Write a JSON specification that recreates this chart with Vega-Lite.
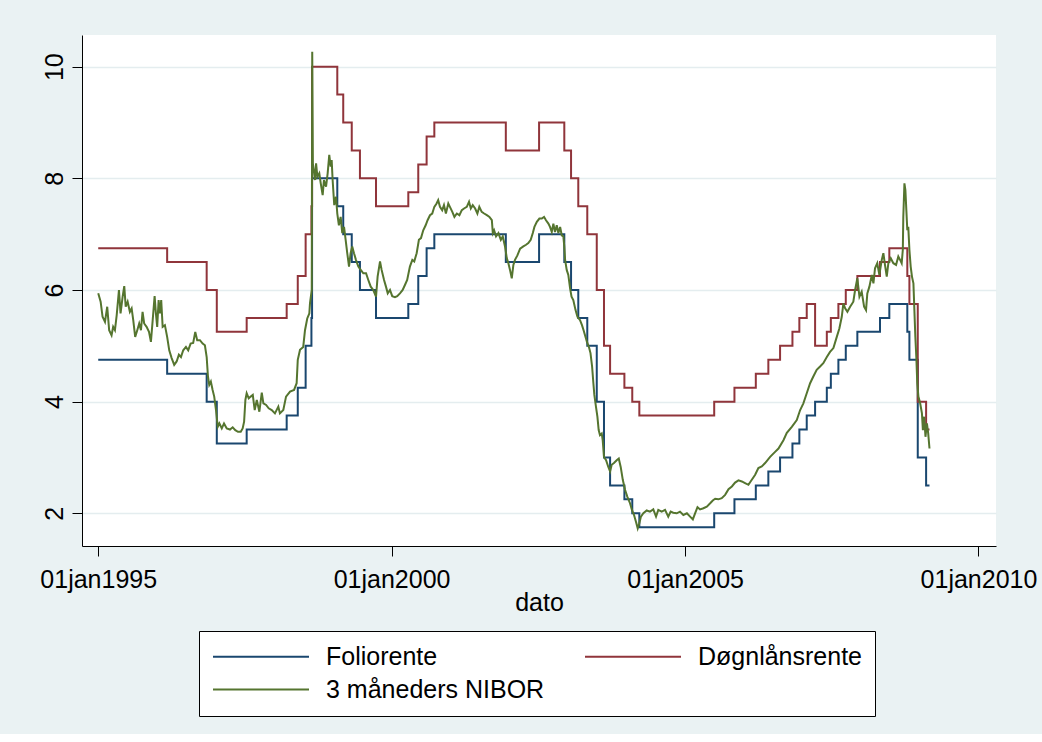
{
  "$schema": "https://vega.github.io/schema/vega-lite/v6.json",
  "width": 914,
  "height": 511,
  "autosize": {"type": "none"},
  "padding": {"left": 82, "top": 35, "right": 46, "bottom": 188},
  "background": "#EAF2F3",
  "config": {
    "font": "Liberation Sans",
    "view": {"fill": "#FFFFFF", "stroke": null},
    "axis": {"domainColor": "#000000", "tickColor": "#000000", "labelColor": "#000000", "titleColor": "#000000", "labelFont": "Liberation Sans", "titleFont": "Liberation Sans", "domainWidth": 1, "tickWidth": 1}
  },
  "encoding": {
    "x": {
      "field": "dato", "type": "temporal", "title": "dato",
      "scale": {"domain": [{"year": 1994, "month": 9, "date": 22}, {"year": 2010, "month": 4, "date": 20}]},
      "axis": {
        "values": [{"year": 1995, "month": 1, "date": 1}, {"year": 2000, "month": 1, "date": 1}, {"year": 2005, "month": 1, "date": 1}, {"year": 2010, "month": 1, "date": 1}],
        "format": "%d%b%Y", "labelExpr": "lower(datum.label)",
        "labelFontSize": 25, "labelPadding": 11, "tickSize": 10,
        "labelFlush": false, "labelOverlap": false, "labelBound": false,
        "labelAlign": "center", "labelBaseline": "top",
        "grid": false,
        "titleFontSize": 25, "titleFontWeight": "normal", "titleY": 64, "titleBaseline": "alphabetic"
      }
    },
    "y": {
      "field": "rente", "type": "quantitative", "title": null,
      "scale": {"domain": [1.414, 10.568], "nice": false, "zero": false},
      "axis": {
        "values": [2, 4, 6, 8, 10],
        "labelAngle": -90, "labelAlign": "center", "labelBaseline": "alphabetic",
        "labelPadding": 10, "tickSize": 10, "labelFontSize": 25,
        "labelFlush": false, "labelOverlap": false,
        "grid": true, "gridColor": "#E4EDEF", "gridWidth": 1.5
      }
    }
  },
  "layer": [
    {
      "data": {
        "format": {"parse": {"dato": "date:'%Y-%j'"}},
        "values": [
          {"dato": "1995-001", "rente": 4.75}, {"dato": "1996-065", "rente": 4.5}, {"dato": "1996-311", "rente": 4.0}, {"dato": "1997-008", "rente": 3.25},
          {"dato": "1997-194", "rente": 3.5}, {"dato": "1998-078", "rente": 3.75}, {"dato": "1998-147", "rente": 4.25}, {"dato": "1998-196", "rente": 5.0},
          {"dato": "1998-232", "rente": 5.5}, {"dato": "1998-236", "rente": 8.0}, {"dato": "1999-028", "rente": 7.5}, {"dato": "1999-065", "rente": 7.0},
          {"dato": "1999-118", "rente": 6.5}, {"dato": "1999-169", "rente": 6.0}, {"dato": "1999-269", "rente": 5.5}, {"dato": "2000-105", "rente": 5.75},
          {"dato": "2000-167", "rente": 6.25}, {"dato": "2000-219", "rente": 6.75}, {"dato": "2000-267", "rente": 7.0}, {"dato": "2001-346", "rente": 6.5},
          {"dato": "2002-188", "rente": 7.0}, {"dato": "2002-345", "rente": 6.5}, {"dato": "2003-022", "rente": 6.0}, {"dato": "2003-067", "rente": 5.5},
          {"dato": "2003-123", "rente": 5.0}, {"dato": "2003-182", "rente": 4.0}, {"dato": "2003-227", "rente": 3.0}, {"dato": "2003-265", "rente": 2.5},
          {"dato": "2003-354", "rente": 2.25}, {"dato": "2004-038", "rente": 2.0}, {"dato": "2004-082", "rente": 1.75}, {"dato": "2005-182", "rente": 2.0},
          {"dato": "2005-308", "rente": 2.25}, {"dato": "2006-076", "rente": 2.5}, {"dato": "2006-154", "rente": 2.75}, {"dato": "2006-227", "rente": 3.0},
          {"dato": "2006-304", "rente": 3.25}, {"dato": "2006-347", "rente": 3.5}, {"dato": "2007-028", "rente": 3.75}, {"dato": "2007-080", "rente": 4.0},
          {"dato": "2007-153", "rente": 4.25}, {"dato": "2007-178", "rente": 4.5}, {"dato": "2007-225", "rente": 4.75}, {"dato": "2007-271", "rente": 5.0},
          {"dato": "2007-343", "rente": 5.25}, {"dato": "2008-119", "rente": 5.5}, {"dato": "2008-177", "rente": 5.75}, {"dato": "2008-289", "rente": 5.25},
          {"dato": "2008-302", "rente": 4.75}, {"dato": "2008-354", "rente": 3.0}, {"dato": "2009-040", "rente": 2.5}, {"dato": "2009-061", "rente": 2.5}
        ]
      },
      "mark": {"type": "line", "interpolate": "step-after", "strokeWidth": 2},
      "encoding": {
        "color": {
          "datum": "Foliorente", "type": "nominal",
          "scale": {"domain": ["Foliorente", "Døgnlånsrente", "3 måneders NIBOR"], "range": ["#1A476F", "#90353B", "#55752F"]},
          "legend": {
            "orient": "none", "legendX": 117, "legendY": 596, "title": null,
            "columns": 2, "direction": "horizontal",
            "symbolType": "stroke", "symbolSize": 9216, "symbolStrokeWidth": 2, "clipHeight": 25,
            "labelFontSize": 25, "labelOffset": 16, "labelLimit": 0, "labelColor": "#000000", "labelFont": "Liberation Sans",
            "padding": 13, "rowPadding": 7, "columnPadding": 39,
            "strokeColor": "#000000", "fillColor": "#FFFFFF"
          }
        }
      }
    },
    {
      "data": {
        "format": {"parse": {"dato": "date:'%Y-%j'"}},
        "values": [
          {"dato": "1995-001", "rente": 6.75}, {"dato": "1996-065", "rente": 6.5}, {"dato": "1996-311", "rente": 6.0}, {"dato": "1997-008", "rente": 5.25},
          {"dato": "1997-194", "rente": 5.5}, {"dato": "1998-078", "rente": 5.75}, {"dato": "1998-147", "rente": 6.25}, {"dato": "1998-196", "rente": 7.0},
          {"dato": "1998-232", "rente": 7.5}, {"dato": "1998-236", "rente": 10.0}, {"dato": "1999-028", "rente": 9.5}, {"dato": "1999-065", "rente": 9.0},
          {"dato": "1999-118", "rente": 8.5}, {"dato": "1999-169", "rente": 8.0}, {"dato": "1999-269", "rente": 7.5}, {"dato": "2000-105", "rente": 7.75},
          {"dato": "2000-167", "rente": 8.25}, {"dato": "2000-219", "rente": 8.75}, {"dato": "2000-267", "rente": 9.0}, {"dato": "2001-346", "rente": 8.5},
          {"dato": "2002-188", "rente": 9.0}, {"dato": "2002-345", "rente": 8.5}, {"dato": "2003-022", "rente": 8.0}, {"dato": "2003-067", "rente": 7.5},
          {"dato": "2003-123", "rente": 7.0}, {"dato": "2003-182", "rente": 6.0}, {"dato": "2003-227", "rente": 5.0}, {"dato": "2003-265", "rente": 4.5},
          {"dato": "2003-354", "rente": 4.25}, {"dato": "2004-038", "rente": 4.0}, {"dato": "2004-082", "rente": 3.75}, {"dato": "2005-182", "rente": 4.0},
          {"dato": "2005-308", "rente": 4.25}, {"dato": "2006-076", "rente": 4.5}, {"dato": "2006-154", "rente": 4.75}, {"dato": "2006-227", "rente": 5.0},
          {"dato": "2006-304", "rente": 5.25}, {"dato": "2006-347", "rente": 5.5}, {"dato": "2007-028", "rente": 5.75}, {"dato": "2007-080", "rente": 5.0},
          {"dato": "2007-153", "rente": 5.25}, {"dato": "2007-178", "rente": 5.5}, {"dato": "2007-225", "rente": 5.75}, {"dato": "2007-271", "rente": 6.0},
          {"dato": "2007-343", "rente": 6.25}, {"dato": "2008-119", "rente": 6.5}, {"dato": "2008-177", "rente": 6.75}, {"dato": "2008-289", "rente": 6.25},
          {"dato": "2008-302", "rente": 5.75}, {"dato": "2008-354", "rente": 4.0}, {"dato": "2009-040", "rente": 3.5}, {"dato": "2009-061", "rente": 3.5}
        ]
      },
      "mark": {"type": "line", "interpolate": "step-after", "strokeWidth": 2},
      "encoding": {
        "color": {
          "datum": "Døgnlånsrente", "type": "nominal",
          "scale": {"domain": ["Foliorente", "Døgnlånsrente", "3 måneders NIBOR"], "range": ["#1A476F", "#90353B", "#55752F"]}
        }
      }
    },
    {
      "data": {
        "format": {"parse": {"dato": "date:'%Y-%j'"}},
        "values": [
          {"dato": "1995-001", "rente": 5.94}, {"dato": "1995-016", "rente": 5.79}, {"dato": "1995-028", "rente": 5.52}, {"dato": "1995-043", "rente": 5.43},
          {"dato": "1995-057", "rente": 5.70}, {"dato": "1995-069", "rente": 5.28}, {"dato": "1995-084", "rente": 5.19}, {"dato": "1995-094", "rente": 5.34},
          {"dato": "1995-105", "rente": 5.28}, {"dato": "1995-116", "rente": 5.55}, {"dato": "1995-130", "rente": 6.0}, {"dato": "1995-140", "rente": 5.58},
          {"dato": "1995-153", "rente": 5.88}, {"dato": "1995-163", "rente": 6.07}, {"dato": "1995-172", "rente": 5.70}, {"dato": "1995-184", "rente": 5.79},
          {"dato": "1995-198", "rente": 5.61}, {"dato": "1995-209", "rente": 5.67}, {"dato": "1995-219", "rente": 5.46}, {"dato": "1995-231", "rente": 5.16},
          {"dato": "1995-244", "rente": 5.28}, {"dato": "1995-256", "rente": 5.40}, {"dato": "1995-267", "rente": 5.28}, {"dato": "1995-277", "rente": 5.61},
          {"dato": "1995-287", "rente": 5.40}, {"dato": "1995-302", "rente": 5.34}, {"dato": "1995-317", "rente": 5.25}, {"dato": "1995-329", "rente": 5.07},
          {"dato": "1995-340", "rente": 5.46}, {"dato": "1995-352", "rente": 5.89}, {"dato": "1995-360", "rente": 5.58},
          {"dato": "1996-003", "rente": 5.34}, {"dato": "1996-012", "rente": 5.82}, {"dato": "1996-020", "rente": 5.58}, {"dato": "1996-028", "rente": 5.82},
          {"dato": "1996-037", "rente": 5.34}, {"dato": "1996-051", "rente": 5.37}, {"dato": "1996-065", "rente": 5.16}, {"dato": "1996-078", "rente": 4.92},
          {"dato": "1996-093", "rente": 4.78}, {"dato": "1996-109", "rente": 4.66}, {"dato": "1996-124", "rente": 4.72}, {"dato": "1996-138", "rente": 4.84},
          {"dato": "1996-151", "rente": 4.80}, {"dato": "1996-165", "rente": 4.92}, {"dato": "1996-182", "rente": 4.98}, {"dato": "1996-196", "rente": 4.92},
          {"dato": "1996-211", "rente": 5.04}, {"dato": "1996-227", "rente": 5.05}, {"dato": "1996-240", "rente": 5.25}, {"dato": "1996-252", "rente": 5.10},
          {"dato": "1996-269", "rente": 5.10}, {"dato": "1996-286", "rente": 5.04}, {"dato": "1996-300", "rente": 5.01}, {"dato": "1996-311", "rente": 4.80},
          {"dato": "1996-319", "rente": 4.45}, {"dato": "1996-327", "rente": 4.30}, {"dato": "1996-337", "rente": 4.36}, {"dato": "1996-348", "rente": 4.21},
          {"dato": "1996-358", "rente": 4.09},
          {"dato": "1997-003", "rente": 3.85}, {"dato": "1997-014", "rente": 3.55}, {"dato": "1997-024", "rente": 3.61}, {"dato": "1997-039", "rente": 3.52},
          {"dato": "1997-053", "rente": 3.61}, {"dato": "1997-070", "rente": 3.52}, {"dato": "1997-090", "rente": 3.50}, {"dato": "1997-107", "rente": 3.54},
          {"dato": "1997-123", "rente": 3.49}, {"dato": "1997-140", "rente": 3.46}, {"dato": "1997-157", "rente": 3.46}, {"dato": "1997-169", "rente": 3.52},
          {"dato": "1997-178", "rente": 3.64}, {"dato": "1997-186", "rente": 4.03}, {"dato": "1997-194", "rente": 4.15}, {"dato": "1997-207", "rente": 4.06},
          {"dato": "1997-219", "rente": 4.09}, {"dato": "1997-232", "rente": 4.12}, {"dato": "1997-244", "rente": 3.85}, {"dato": "1997-257", "rente": 4.03},
          {"dato": "1997-273", "rente": 3.82}, {"dato": "1997-288", "rente": 4.16}, {"dato": "1997-298", "rente": 3.97}, {"dato": "1997-315", "rente": 3.94},
          {"dato": "1997-331", "rente": 3.88}, {"dato": "1997-350", "rente": 3.85},
          {"dato": "1998-005", "rente": 3.79}, {"dato": "1998-026", "rente": 3.91}, {"dato": "1998-036", "rente": 3.79}, {"dato": "1998-057", "rente": 3.85},
          {"dato": "1998-074", "rente": 4.09}, {"dato": "1998-099", "rente": 4.18}, {"dato": "1998-124", "rente": 4.21}, {"dato": "1998-140", "rente": 4.33},
          {"dato": "1998-147", "rente": 4.75}, {"dato": "1998-161", "rente": 4.93}, {"dato": "1998-181", "rente": 4.98}, {"dato": "1998-192", "rente": 5.28},
          {"dato": "1998-206", "rente": 5.49}, {"dato": "1998-219", "rente": 5.58}, {"dato": "1998-223", "rente": 5.76}, {"dato": "1998-234", "rente": 6.0},
          {"dato": "1998-237", "rente": 10.27}, {"dato": "1998-241", "rente": 8.27}, {"dato": "1998-254", "rente": 7.97}, {"dato": "1998-261", "rente": 8.27},
          {"dato": "1998-269", "rente": 8.03}, {"dato": "1998-281", "rente": 8.09}, {"dato": "1998-290", "rente": 7.91}, {"dato": "1998-302", "rente": 7.70},
          {"dato": "1998-310", "rente": 7.97}, {"dato": "1998-323", "rente": 7.85}, {"dato": "1998-333", "rente": 8.09}, {"dato": "1998-343", "rente": 8.42},
          {"dato": "1998-352", "rente": 8.21}, {"dato": "1998-358", "rente": 8.33}, {"dato": "1998-364", "rente": 7.97},
          {"dato": "1999-009", "rente": 7.52}, {"dato": "1999-020", "rente": 7.67}, {"dato": "1999-028", "rente": 7.37}, {"dato": "1999-038", "rente": 7.16},
          {"dato": "1999-049", "rente": 7.31}, {"dato": "1999-059", "rente": 7.02}, {"dato": "1999-070", "rente": 7.13}, {"dato": "1999-080", "rente": 6.90},
          {"dato": "1999-090", "rente": 6.66}, {"dato": "1999-101", "rente": 6.42}, {"dato": "1999-111", "rente": 6.66}, {"dato": "1999-121", "rente": 6.78},
          {"dato": "1999-132", "rente": 6.66}, {"dato": "1999-144", "rente": 6.54}, {"dato": "1999-159", "rente": 6.42}, {"dato": "1999-174", "rente": 6.36},
          {"dato": "1999-190", "rente": 6.30}, {"dato": "1999-207", "rente": 6.30}, {"dato": "1999-221", "rente": 6.18}, {"dato": "1999-236", "rente": 6.06},
          {"dato": "1999-252", "rente": 6.0}, {"dato": "1999-269", "rente": 5.88}, {"dato": "1999-279", "rente": 6.24}, {"dato": "1999-294", "rente": 6.51},
          {"dato": "1999-304", "rente": 6.36}, {"dato": "1999-319", "rente": 6.18}, {"dato": "1999-331", "rente": 6.06}, {"dato": "1999-342", "rente": 5.94},
          {"dato": "1999-356", "rente": 6.0},
          {"dato": "2000-005", "rente": 5.89}, {"dato": "2000-022", "rente": 5.87}, {"dato": "2000-036", "rente": 5.89}, {"dato": "2000-053", "rente": 5.94},
          {"dato": "2000-070", "rente": 6.0}, {"dato": "2000-084", "rente": 6.09}, {"dato": "2000-098", "rente": 6.18}, {"dato": "2000-115", "rente": 6.42},
          {"dato": "2000-130", "rente": 6.54}, {"dato": "2000-142", "rente": 6.51}, {"dato": "2000-157", "rente": 6.66}, {"dato": "2000-171", "rente": 6.90},
          {"dato": "2000-184", "rente": 6.93}, {"dato": "2000-198", "rente": 7.07}, {"dato": "2000-213", "rente": 7.16}, {"dato": "2000-225", "rente": 7.25},
          {"dato": "2000-240", "rente": 7.34}, {"dato": "2000-254", "rente": 7.37}, {"dato": "2000-267", "rente": 7.49}, {"dato": "2000-281", "rente": 7.55},
          {"dato": "2000-291", "rente": 7.61}, {"dato": "2000-302", "rente": 7.49}, {"dato": "2000-316", "rente": 7.43}, {"dato": "2000-327", "rente": 7.52},
          {"dato": "2000-339", "rente": 7.37}, {"dato": "2000-354", "rente": 7.55}, {"dato": "2000-364", "rente": 7.49},
          {"dato": "2001-013", "rente": 7.40}, {"dato": "2001-026", "rente": 7.31}, {"dato": "2001-041", "rente": 7.37}, {"dato": "2001-057", "rente": 7.34},
          {"dato": "2001-072", "rente": 7.43}, {"dato": "2001-086", "rente": 7.46}, {"dato": "2001-103", "rente": 7.49}, {"dato": "2001-117", "rente": 7.58},
          {"dato": "2001-128", "rente": 7.46}, {"dato": "2001-140", "rente": 7.52}, {"dato": "2001-155", "rente": 7.46}, {"dato": "2001-169", "rente": 7.37},
          {"dato": "2001-181", "rente": 7.49}, {"dato": "2001-196", "rente": 7.40}, {"dato": "2001-211", "rente": 7.37}, {"dato": "2001-228", "rente": 7.34},
          {"dato": "2001-244", "rente": 7.31}, {"dato": "2001-259", "rente": 7.25}, {"dato": "2001-265", "rente": 7.02}, {"dato": "2001-273", "rente": 7.07},
          {"dato": "2001-285", "rente": 6.96}, {"dato": "2001-300", "rente": 7.02}, {"dato": "2001-315", "rente": 6.90}, {"dato": "2001-327", "rente": 6.96},
          {"dato": "2001-341", "rente": 6.78}, {"dato": "2001-352", "rente": 6.57}, {"dato": "2001-362", "rente": 6.48},
          {"dato": "2002-007", "rente": 6.36}, {"dato": "2002-018", "rente": 6.21}, {"dato": "2002-028", "rente": 6.45}, {"dato": "2002-038", "rente": 6.54},
          {"dato": "2002-053", "rente": 6.62}, {"dato": "2002-070", "rente": 6.74}, {"dato": "2002-090", "rente": 6.78}, {"dato": "2002-107", "rente": 6.81},
          {"dato": "2002-121", "rente": 6.84}, {"dato": "2002-136", "rente": 6.90}, {"dato": "2002-149", "rente": 7.02}, {"dato": "2002-159", "rente": 7.13},
          {"dato": "2002-174", "rente": 7.22}, {"dato": "2002-190", "rente": 7.28}, {"dato": "2002-205", "rente": 7.28}, {"dato": "2002-219", "rente": 7.31},
          {"dato": "2002-231", "rente": 7.25}, {"dato": "2002-246", "rente": 7.19}, {"dato": "2002-256", "rente": 7.13}, {"dato": "2002-267", "rente": 7.04},
          {"dato": "2002-277", "rente": 7.19}, {"dato": "2002-287", "rente": 7.04}, {"dato": "2002-298", "rente": 7.16}, {"dato": "2002-308", "rente": 7.02},
          {"dato": "2002-319", "rente": 7.13}, {"dato": "2002-329", "rente": 6.98}, {"dato": "2002-339", "rente": 6.96}, {"dato": "2002-345", "rente": 6.78},
          {"dato": "2002-350", "rente": 6.54}, {"dato": "2002-360", "rente": 6.36},
          {"dato": "2003-005", "rente": 6.27}, {"dato": "2003-016", "rente": 6.03}, {"dato": "2003-025", "rente": 5.88}, {"dato": "2003-036", "rente": 5.82},
          {"dato": "2003-050", "rente": 5.64}, {"dato": "2003-062", "rente": 5.52}, {"dato": "2003-078", "rente": 5.46}, {"dato": "2003-090", "rente": 5.37},
          {"dato": "2003-100", "rente": 5.28}, {"dato": "2003-109", "rente": 5.19}, {"dato": "2003-121", "rente": 5.07}, {"dato": "2003-134", "rente": 4.97},
          {"dato": "2003-143", "rente": 4.87}, {"dato": "2003-153", "rente": 4.63}, {"dato": "2003-161", "rente": 4.33}, {"dato": "2003-167", "rente": 4.12},
          {"dato": "2003-177", "rente": 3.91}, {"dato": "2003-186", "rente": 3.73}, {"dato": "2003-194", "rente": 3.49}, {"dato": "2003-202", "rente": 3.40},
          {"dato": "2003-213", "rente": 3.43}, {"dato": "2003-219", "rente": 3.31}, {"dato": "2003-227", "rente": 3.01}, {"dato": "2003-240", "rente": 2.95},
          {"dato": "2003-254", "rente": 2.83}, {"dato": "2003-265", "rente": 2.75}, {"dato": "2003-275", "rente": 2.87}, {"dato": "2003-289", "rente": 2.90},
          {"dato": "2003-306", "rente": 2.95}, {"dato": "2003-319", "rente": 2.98}, {"dato": "2003-331", "rente": 2.83}, {"dato": "2003-344", "rente": 2.60},
          {"dato": "2003-358", "rente": 2.42},
          {"dato": "2004-007", "rente": 2.30}, {"dato": "2004-024", "rente": 2.18}, {"dato": "2004-036", "rente": 2.06}, {"dato": "2004-049", "rente": 1.97},
          {"dato": "2004-061", "rente": 1.85}, {"dato": "2004-072", "rente": 1.73}, {"dato": "2004-082", "rente": 1.82}, {"dato": "2004-092", "rente": 1.94},
          {"dato": "2004-107", "rente": 2.0}, {"dato": "2004-128", "rente": 2.05}, {"dato": "2004-148", "rente": 2.03}, {"dato": "2004-169", "rente": 2.07},
          {"dato": "2004-186", "rente": 1.94}, {"dato": "2004-200", "rente": 2.06}, {"dato": "2004-221", "rente": 2.03}, {"dato": "2004-242", "rente": 2.06},
          {"dato": "2004-262", "rente": 1.94}, {"dato": "2004-277", "rente": 2.03}, {"dato": "2004-293", "rente": 2.01}, {"dato": "2004-315", "rente": 2.0},
          {"dato": "2004-335", "rente": 2.03}, {"dato": "2004-356", "rente": 1.97},
          {"dato": "2005-012", "rente": 2.0}, {"dato": "2005-032", "rente": 1.94}, {"dato": "2005-049", "rente": 1.89}, {"dato": "2005-063", "rente": 2.0},
          {"dato": "2005-078", "rente": 2.11}, {"dato": "2005-094", "rente": 2.07}, {"dato": "2005-115", "rente": 2.09}, {"dato": "2005-136", "rente": 2.12},
          {"dato": "2005-157", "rente": 2.18}, {"dato": "2005-173", "rente": 2.23}, {"dato": "2005-188", "rente": 2.26}, {"dato": "2005-208", "rente": 2.25},
          {"dato": "2005-229", "rente": 2.27}, {"dato": "2005-250", "rente": 2.33}, {"dato": "2005-271", "rente": 2.43}, {"dato": "2005-292", "rente": 2.48},
          {"dato": "2005-312", "rente": 2.55}, {"dato": "2005-333", "rente": 2.59}, {"dato": "2005-354", "rente": 2.57},
          {"dato": "2006-009", "rente": 2.54}, {"dato": "2006-030", "rente": 2.51}, {"dato": "2006-051", "rente": 2.60}, {"dato": "2006-072", "rente": 2.69},
          {"dato": "2006-092", "rente": 2.81}, {"dato": "2006-113", "rente": 2.84}, {"dato": "2006-134", "rente": 2.90}, {"dato": "2006-165", "rente": 3.01},
          {"dato": "2006-196", "rente": 3.10}, {"dato": "2006-217", "rente": 3.16}, {"dato": "2006-248", "rente": 3.31}, {"dato": "2006-269", "rente": 3.44},
          {"dato": "2006-300", "rente": 3.55}, {"dato": "2006-331", "rente": 3.67}, {"dato": "2006-352", "rente": 3.85},
          {"dato": "2007-007", "rente": 3.97}, {"dato": "2007-028", "rente": 4.15}, {"dato": "2007-049", "rente": 4.33}, {"dato": "2007-069", "rente": 4.45},
          {"dato": "2007-090", "rente": 4.57}, {"dato": "2007-111", "rente": 4.63}, {"dato": "2007-131", "rente": 4.69}, {"dato": "2007-153", "rente": 4.80},
          {"dato": "2007-173", "rente": 4.89}, {"dato": "2007-194", "rente": 4.96}, {"dato": "2007-215", "rente": 5.16}, {"dato": "2007-231", "rente": 5.31},
          {"dato": "2007-246", "rente": 5.52}, {"dato": "2007-256", "rente": 5.76}, {"dato": "2007-267", "rente": 5.67}, {"dato": "2007-281", "rente": 5.61},
          {"dato": "2007-298", "rente": 5.70}, {"dato": "2007-318", "rente": 5.79}, {"dato": "2007-329", "rente": 6.0}, {"dato": "2007-343", "rente": 6.21},
          {"dato": "2007-356", "rente": 5.88},
          {"dato": "2008-005", "rente": 5.97}, {"dato": "2008-020", "rente": 5.70}, {"dato": "2008-032", "rente": 5.64}, {"dato": "2008-040", "rente": 5.94},
          {"dato": "2008-053", "rente": 6.06}, {"dato": "2008-068", "rente": 6.27}, {"dato": "2008-078", "rente": 6.12}, {"dato": "2008-088", "rente": 6.39},
          {"dato": "2008-102", "rente": 6.48}, {"dato": "2008-115", "rente": 6.27}, {"dato": "2008-130", "rente": 6.54}, {"dato": "2008-140", "rente": 6.66},
          {"dato": "2008-150", "rente": 6.45}, {"dato": "2008-161", "rente": 6.24}, {"dato": "2008-171", "rente": 6.48}, {"dato": "2008-186", "rente": 6.57},
          {"dato": "2008-202", "rente": 6.48}, {"dato": "2008-219", "rente": 6.45}, {"dato": "2008-233", "rente": 6.60}, {"dato": "2008-244", "rente": 6.54},
          {"dato": "2008-254", "rente": 6.48}, {"dato": "2008-261", "rente": 6.72}, {"dato": "2008-264", "rente": 7.31}, {"dato": "2008-271", "rente": 7.91},
          {"dato": "2008-277", "rente": 7.79}, {"dato": "2008-283", "rente": 7.43}, {"dato": "2008-289", "rente": 7.07}, {"dato": "2008-295", "rente": 7.13},
          {"dato": "2008-302", "rente": 6.72}, {"dato": "2008-310", "rente": 6.42}, {"dato": "2008-318", "rente": 6.24}, {"dato": "2008-327", "rente": 6.12},
          {"dato": "2008-333", "rente": 5.64}, {"dato": "2008-339", "rente": 5.16}, {"dato": "2008-345", "rente": 4.80}, {"dato": "2008-351", "rente": 4.33},
          {"dato": "2008-358", "rente": 4.09},
          {"dato": "2009-003", "rente": 3.97}, {"dato": "2009-014", "rente": 3.79}, {"dato": "2009-020", "rente": 3.49}, {"dato": "2009-028", "rente": 3.73},
          {"dato": "2009-036", "rente": 3.37}, {"dato": "2009-045", "rente": 3.61}, {"dato": "2009-053", "rente": 3.43}, {"dato": "2009-061", "rente": 3.16}
        ]
      },
      "mark": {"type": "line", "strokeWidth": 2},
      "encoding": {
        "color": {
          "datum": "3 måneders NIBOR", "type": "nominal",
          "scale": {"domain": ["Foliorente", "Døgnlånsrente", "3 måneders NIBOR"], "range": ["#1A476F", "#90353B", "#55752F"]}
        }
      }
    }
  ]
}
